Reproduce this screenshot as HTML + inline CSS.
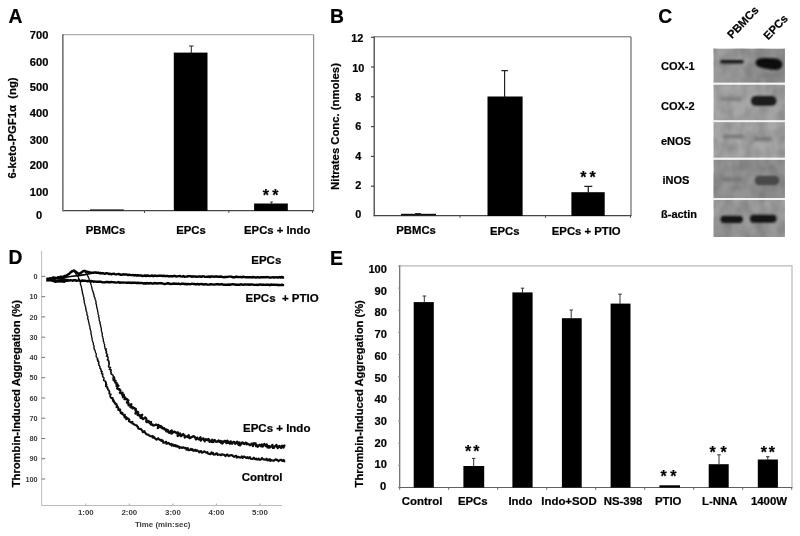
<!DOCTYPE html>
<html><head><meta charset="utf-8"><title>Figure</title>
<style>
html,body{margin:0;padding:0;background:#fff;}
body{width:800px;height:536px;overflow:hidden;}
svg{display:block;}
svg text{font-family:"Liberation Sans",sans-serif;font-weight:bold;fill:#000;stroke:#000;stroke-width:.22px;}
</style></head>
<body>
<svg width="800" height="536" viewBox="0 0 800 536">
<defs>
<filter id="b1" x="-20%" y="-60%" width="140%" height="220%"><feGaussianBlur stdDeviation="0.9"/></filter>
<filter id="b2" x="-20%" y="-100%" width="140%" height="300%"><feGaussianBlur stdDeviation="1.4"/></filter>
<filter id="b15" x="-20%" y="-60%" width="140%" height="220%"><feGaussianBlur stdDeviation="1.3"/></filter>
<filter id="mott" x="0" y="0" width="100%" height="100%"><feTurbulence type="fractalNoise" baseFrequency="0.09 0.07" numOctaves="2" seed="4" result="n"/><feColorMatrix in="n" type="matrix" values="0 0 0 0 0  0 0 0 0 0  0 0 0 0 0  1.8 0 0 0 -0.55"/></filter>
<linearGradient id="g1" x1="0" y1="0" x2="1" y2="0"><stop offset="0" stop-color="#a1a1a1"/><stop offset=".5" stop-color="#989898"/><stop offset="1" stop-color="#8a8a8a"/></linearGradient>
<linearGradient id="g2" x1="0" y1="0" x2="1" y2="0"><stop offset="0" stop-color="#a9a9a9"/><stop offset="1" stop-color="#a2a2a2"/></linearGradient>
<linearGradient id="g3" x1="0" y1="0" x2="1" y2="0"><stop offset="0" stop-color="#a6a6a6"/><stop offset="1" stop-color="#a9a9a9"/></linearGradient>
<linearGradient id="g4" x1="0" y1="0" x2="1" y2="0"><stop offset="0" stop-color="#969696"/><stop offset="1" stop-color="#909090"/></linearGradient>
<linearGradient id="g5" x1="0" y1="0" x2="0" y2="1"><stop offset="0" stop-color="#a0a0a0"/><stop offset="1" stop-color="#979797"/></linearGradient>
<filter id="soft" x="0" y="0" width="100%" height="100%"><feGaussianBlur stdDeviation="0.45"/></filter>
</defs>
<rect width="800" height="536" fill="#fff"/>
<g filter="url(#soft)">
<g id="A">
<text x="8.5" y="23.2" font-size="19.3" text-anchor="start" >A</text>
<path d="M63 34.7H313.7" stroke="#9a9a9a" stroke-width="1" fill="none"/>
<path d="M313.7 34.7V211" stroke="#777" stroke-width="1" fill="none"/>
<path d="M62.9 34.2V211.2" stroke="#333" stroke-width="1.1" fill="none"/>
<path d="M62.4 210.7H314" stroke="#444" stroke-width="1.2" fill="none"/>
<path d="M62 210.6H63.5" stroke="#888" stroke-width="1"/>
<path d="M62 185.5H63.5" stroke="#888" stroke-width="1"/>
<path d="M62 160.3H63.5" stroke="#888" stroke-width="1"/>
<path d="M62 135.2H63.5" stroke="#888" stroke-width="1"/>
<path d="M62 110.1H63.5" stroke="#888" stroke-width="1"/>
<path d="M62 85.0H63.5" stroke="#888" stroke-width="1"/>
<path d="M62 59.8H63.5" stroke="#888" stroke-width="1"/>
<path d="M62 34.7H63.5" stroke="#888" stroke-width="1"/>
<path d="M144.5 211V213" stroke="#555" stroke-width="1"/>
<path d="M228.9 211V213" stroke="#555" stroke-width="1"/>
<path d="M312.5 211V213" stroke="#555" stroke-width="1"/>
<text x="39.1" y="39.0" font-size="11.1" text-anchor="middle" >700</text>
<text x="39.1" y="66.0" font-size="11.1" text-anchor="middle" >600</text>
<text x="39.1" y="91.0" font-size="11.1" text-anchor="middle" >500</text>
<text x="39.1" y="117.0" font-size="11.1" text-anchor="middle" >400</text>
<text x="39.1" y="143.7" font-size="11.1" text-anchor="middle" >300</text>
<text x="39.1" y="169.4" font-size="11.1" text-anchor="middle" >200</text>
<text x="39.1" y="195.6" font-size="11.1" text-anchor="middle" >100</text>
<text x="39.1" y="219.0" font-size="11.1" text-anchor="middle" >0</text>
<rect x="90" y="209.4" width="33.7" height="1.2" fill="#111"/>
<rect x="173.8" y="52.6" width="33.7" height="158.4" fill="#000"/>
<path d="M191.3 53.0V46.0M189.1 46.0H193.6" stroke="#222" stroke-width="1" fill="none"/>
<rect x="254.1" y="203.5" width="33.7" height="7.5" fill="#000"/>
<path d="M271.5 204.0V202.0M270.0 202.0H273.0" stroke="#444" stroke-width="1" fill="none"/>
<text x="265.9" y="201.2" font-size="16" text-anchor="middle">*</text><text x="275.4" y="201.2" font-size="16" text-anchor="middle">*</text>
<text x="105.5" y="233.6" font-size="11.3" text-anchor="middle" >PBMCs</text>
<text x="191" y="233.6" font-size="11.3" text-anchor="middle" >EPCs</text>
<text x="277.2" y="233.6" font-size="11.3" text-anchor="middle" >EPCs + Indo</text>
<text transform="translate(16.3 128) rotate(-90)" font-size="11.3" text-anchor="middle">6-keto-PGF1&#945;&#160;&#160;(ng)</text>
</g>
<g id="B">
<text x="329.9" y="23.2" font-size="19.3" text-anchor="start" >B</text>
<path d="M374 36.8H631" stroke="#666" stroke-width="1" fill="none"/>
<path d="M631 36.8V215.6" stroke="#4a4a4a" stroke-width="1" fill="none"/>
<path d="M374.2 36.4V216.2" stroke="#444" stroke-width="1.3" fill="none"/>
<path d="M373.6 215.6H631.5" stroke="#444" stroke-width="1.3" fill="none"/>
<path d="M371 186.2H374" stroke="#444" stroke-width="1.2"/>
<path d="M371 156.4H374" stroke="#444" stroke-width="1.2"/>
<path d="M371 126.6H374" stroke="#444" stroke-width="1.2"/>
<path d="M371 96.8H374" stroke="#444" stroke-width="1.2"/>
<path d="M371 67.0H374" stroke="#444" stroke-width="1.2"/>
<path d="M371 37.3H374" stroke="#444" stroke-width="1.2"/>
<path d="M460 215.6V217.8" stroke="#555" stroke-width="1"/>
<path d="M545.5 215.6V217.8" stroke="#555" stroke-width="1"/>
<path d="M630.5 215.6V217.8" stroke="#555" stroke-width="1"/>
<text x="357.3" y="42.25" font-size="10.9" text-anchor="middle" >12</text>
<text x="358.2" y="71.65" font-size="10.9" text-anchor="middle" >10</text>
<text x="358.2" y="101.25" font-size="10.9" text-anchor="middle" >8</text>
<text x="358.2" y="130.25" font-size="10.9" text-anchor="middle" >6</text>
<text x="358.2" y="160.14999999999998" font-size="10.9" text-anchor="middle" >4</text>
<text x="358.2" y="189.25" font-size="10.9" text-anchor="middle" >2</text>
<text x="358.2" y="218.35" font-size="10.9" text-anchor="middle" >0</text>
<rect x="401" y="213.8" width="35" height="1.8" fill="#111"/>
<rect x="415" y="213" width="6" height="1.5" rx=".7" fill="#222"/>
<rect x="487.5" y="96.5" width="35.1" height="119.4" fill="#000"/>
<path d="M504.6 97.0V70.6M501.4 70.6H507.9" stroke="#222" stroke-width="1.2" fill="none"/>
<rect x="571.4" y="192.2" width="33.3" height="23.7" fill="#000"/>
<path d="M588.3 193.0V186.3M584.3 186.3H592.3" stroke="#222" stroke-width="1.3" fill="none"/>
<text x="583.4" y="183.1" font-size="16" text-anchor="middle">*</text><text x="592.6" y="183.1" font-size="16" text-anchor="middle">*</text>
<text x="416.1" y="234.4" font-size="11.3" text-anchor="middle" >PBMCs</text>
<text x="504.7" y="234.7" font-size="11.3" text-anchor="middle" >EPCs</text>
<text x="586.2" y="234.7" font-size="11.3" text-anchor="middle" >EPCs + PTIO</text>
<text transform="translate(338.8 126.5) rotate(-90)" font-size="11.3" text-anchor="middle">Nitrates Conc. (nmoles)</text>
</g>
<g id="C">
<text x="658.2" y="23.2" font-size="19.3" text-anchor="start" >C</text>
<text transform="translate(732 39.3) rotate(-46.5)" font-size="11.3" text-anchor="start">PBMCs</text>
<text transform="translate(768.2 40.5) rotate(-46.5)" font-size="11.3" text-anchor="start">EPCs</text>
<text x="661" y="70" font-size="11.0" text-anchor="start" >COX-1</text>
<text x="661" y="109.7" font-size="11.0" text-anchor="start" >COX-2</text>
<text x="661" y="145" font-size="11.0" text-anchor="start" >eNOS</text>
<text x="662.4" y="184" font-size="11.0" text-anchor="start" >iNOS</text>
<text x="661" y="217.9" font-size="11.0" text-anchor="start" >&#223;-actin</text>
<rect x="713.6" y="48.7" width="71.3" height="34.1" fill="url(#g1)"/>
<rect x="713.6" y="84.5" width="71.3" height="36.0" fill="url(#g2)"/>
<rect x="713.6" y="122" width="71.3" height="35.8" fill="url(#g3)"/>
<rect x="713.6" y="159.6" width="71.3" height="38.6" fill="url(#g4)"/>
<rect x="713.6" y="199.7" width="71.3" height="37.3" fill="url(#g5)"/>
<rect x="713.6" y="48.7" width="71.3" height="188.3" fill="#000" filter="url(#mott)" opacity=".16"/>
<rect x="713" y="82.75" width="72.5" height="1.8" fill="#f4f4f4"/>
<rect x="713" y="120.35" width="72.5" height="1.8" fill="#f4f4f4"/>
<rect x="713" y="157.80" width="72.5" height="1.8" fill="#f4f4f4"/>
<rect x="713" y="198.05" width="72.5" height="1.8" fill="#f4f4f4"/>
<rect x="720.2" y="59.9" width="23.5" height="3.6" rx="1.8" fill="#161616" opacity="1" filter="url(#b1)"/>
<path d="M756 61.5C757 58 764 57.8 770 58.2C777 58.4 782 59.5 782.3 64C782.5 68.5 779 70.3 774 69.8C767 69.2 760 67.6 757.5 66C755.5 64.5 755.5 63 756 61.5Z" fill="#0a0a0a" filter="url(#b1)"/>
<rect x="760.0" y="74.0" width="16" height="3" rx="1.5" fill="#6f6f6f" opacity="0.5" filter="url(#b2)"/>
<rect x="720.5" y="96.8" width="21" height="4.5" rx="2.2" fill="#777" opacity="0.75" filter="url(#b2)"/>
<rect x="751.0" y="96.1" width="25.5" height="9.6" rx="4.8" fill="#1a1a1a" opacity="1" filter="url(#b1)"/>
<rect x="722.0" y="134.5" width="22" height="4" rx="2.0" fill="#707070" opacity="0.85" filter="url(#b2)"/>
<rect x="754.0" y="137.0" width="18" height="4" rx="2.0" fill="#707070" opacity="0.8" filter="url(#b2)"/>
<rect x="722.0" y="177.5" width="20" height="4" rx="2.0" fill="#6a6a6a" opacity="0.7" filter="url(#b2)"/>
<rect x="754.8" y="175.7" width="24.5" height="9.6" rx="4.8" fill="#4a4a4a" opacity="1" filter="url(#b15)"/>
<rect x="720.5" y="215.7" width="22.5" height="7.2" rx="3.6" fill="#181818" opacity="1" filter="url(#b1)"/>
<rect x="750.0" y="214.8" width="26.5" height="8" rx="4.0" fill="#181818" opacity="1" filter="url(#b1)"/>
</g>
<g id="D">
<text x="8.4" y="264.2" font-size="19.3" text-anchor="start" >D</text>
<path d="M41.6 251V505.5H282" stroke="#b0b0b0" stroke-width=".85" fill="none"/>
<path d="M41.6 276.4H45.2" stroke="#666" stroke-width=".9"/>
<text x="37.6" y="279.0" font-size="7.3" text-anchor="end" style="fill:#3c3c3c;stroke:none">0</text>
<path d="M41.6 296.7H45.2" stroke="#666" stroke-width=".9"/>
<text x="37.6" y="299.26" font-size="7.3" text-anchor="end" style="fill:#3c3c3c;stroke:none">10</text>
<path d="M41.6 316.9H45.2" stroke="#666" stroke-width=".9"/>
<text x="37.6" y="319.52" font-size="7.3" text-anchor="end" style="fill:#3c3c3c;stroke:none">20</text>
<path d="M41.6 337.2H45.2" stroke="#666" stroke-width=".9"/>
<text x="37.6" y="339.78" font-size="7.3" text-anchor="end" style="fill:#3c3c3c;stroke:none">30</text>
<path d="M41.6 357.4H45.2" stroke="#666" stroke-width=".9"/>
<text x="37.6" y="360.04" font-size="7.3" text-anchor="end" style="fill:#3c3c3c;stroke:none">40</text>
<path d="M41.6 377.7H45.2" stroke="#666" stroke-width=".9"/>
<text x="37.6" y="380.3" font-size="7.3" text-anchor="end" style="fill:#3c3c3c;stroke:none">50</text>
<path d="M41.6 398.0H45.2" stroke="#666" stroke-width=".9"/>
<text x="37.6" y="400.56" font-size="7.3" text-anchor="end" style="fill:#3c3c3c;stroke:none">60</text>
<path d="M41.6 418.2H45.2" stroke="#666" stroke-width=".9"/>
<text x="37.6" y="420.82000000000005" font-size="7.3" text-anchor="end" style="fill:#3c3c3c;stroke:none">70</text>
<path d="M41.6 438.5H45.2" stroke="#666" stroke-width=".9"/>
<text x="37.6" y="441.08000000000004" font-size="7.3" text-anchor="end" style="fill:#3c3c3c;stroke:none">80</text>
<path d="M41.6 458.7H45.2" stroke="#666" stroke-width=".9"/>
<text x="37.6" y="461.34000000000003" font-size="7.3" text-anchor="end" style="fill:#3c3c3c;stroke:none">90</text>
<path d="M41.6 479.0H45.2" stroke="#666" stroke-width=".9"/>
<text x="37.6" y="481.6" font-size="7.3" text-anchor="end" style="fill:#3c3c3c;stroke:none">100</text>
<path d="M85.8 503.5V505.5" stroke="#999" stroke-width=".8"/>
<text x="85.8" y="514.5" font-size="7.9" text-anchor="middle" style="fill:#3c3c3c;stroke:none">1:00</text>
<path d="M129.3 503.5V505.5" stroke="#999" stroke-width=".8"/>
<text x="129.35" y="514.5" font-size="7.9" text-anchor="middle" style="fill:#3c3c3c;stroke:none">2:00</text>
<path d="M172.9 503.5V505.5" stroke="#999" stroke-width=".8"/>
<text x="172.89999999999998" y="514.5" font-size="7.9" text-anchor="middle" style="fill:#3c3c3c;stroke:none">3:00</text>
<path d="M216.4 503.5V505.5" stroke="#999" stroke-width=".8"/>
<text x="216.45" y="514.5" font-size="7.9" text-anchor="middle" style="fill:#3c3c3c;stroke:none">4:00</text>
<path d="M260.0 503.5V505.5" stroke="#999" stroke-width=".8"/>
<text x="260.0" y="514.5" font-size="7.9" text-anchor="middle" style="fill:#3c3c3c;stroke:none">5:00</text>
<text x="162.7" y="527" font-size="7.9" text-anchor="middle" style="fill:#3c3c3c;stroke:none">Time (min:sec)</text>
<text transform="translate(20.2 393.6) rotate(-90)" font-size="11.2" text-anchor="middle">Thrombin-Induced Aggregation (%)</text>
<path d="M46.5 278.8L51.5 279.6L54.3 280.0L59.6 277.1L46.8 281.1L51.9 277.9L67.4 279.5L64.1 279.5L59.9 277.6L59.8 281.5L57.5 280.8L60.6 277.1L62.4 280.1L52.8 276.8L64.7 279.5L61.6 281.6L61.5 281.9L54.8 281.1L55.8 281.8L65.0 277.4L49.4 277.8L66.8 279.3L59.7 278.4L57.2 278.8L53.9 279.9L58.8 281.7L60.8 281.9L64.5 282.3L60.6 277.7L64.6 282.2L65.5 280.0" stroke="#000" stroke-width="1.35" fill="none" stroke-linejoin="round" opacity=".92"/>
<path d="M60 278.2L66 277.2L72 276.2L78.5 275.6L85 274.6L92 273.2" stroke="#000" stroke-width="1.6" fill="none" stroke-linejoin="round"/>
<path d="M46.5 278.8L47.7 278.7L48.9 278.9L50.1 278.4L51.3 278.4L52.5 278.3L53.7 277.9L54.9 278.0L56.1 277.9L57.3 277.8L58.5 277.1L59.7 277.1L60.9 276.7L62.1 277.0L63.3 276.8L64.5 275.9L65.7 275.9L66.9 275.3L68.1 274.4L69.3 273.7L70.5 272.5L71.7 271.5L72.9 271.0L74.1 270.6L75.3 271.4L76.5 272.3L77.7 273.2L78.9 274.3L80.1 273.3L81.3 272.6L82.5 271.6L83.7 270.9L84.9 270.9L86.1 271.4L87.3 271.7L88.5 271.9L89.7 272.5L90.9 272.7L92.1 272.7L93.3 272.7L94.5 272.5L95.7 272.5L96.9 272.7L98.1 272.6L99.3 273.2L100.5 273.0L101.7 273.4L102.9 273.2L104.1 273.7L105.3 273.7L106.5 273.2L107.7 273.4L108.9 274.0L110.1 273.8L111.3 274.2L112.5 273.9L113.7 273.7L114.9 274.2L116.1 274.4L117.3 274.1L118.5 274.0L119.7 274.3L120.9 274.8L122.1 274.7L123.3 274.3L124.5 274.5L125.7 274.5L126.9 274.5L128.1 275.1L129.3 274.7L130.5 275.1L131.7 275.1L132.9 275.0L134.1 275.4L135.3 275.1L136.5 275.5L137.7 275.2L138.9 275.5L140.1 275.4L141.3 275.5L142.5 276.0L143.7 275.9L144.9 275.5L146.1 276.0L147.3 275.5L148.5 275.7L149.7 276.0L150.9 275.9L152.1 275.5L153.3 276.2L154.5 275.6L155.7 275.7L156.9 276.1L158.1 275.8L159.3 275.8L160.5 275.6L161.7 275.7L162.9 276.0L164.1 275.8L165.3 276.1L166.5 276.0L167.7 276.0L168.9 276.4L170.1 276.1L171.3 276.2L172.5 276.4L173.7 275.9L174.9 275.9L176.1 276.5L177.3 276.4L178.5 276.1L179.7 276.0L180.9 276.4L182.1 276.6L183.3 276.1L184.5 276.7L185.7 276.6L186.9 276.5L188.1 276.3L189.3 276.1L190.5 276.1L191.7 276.8L192.9 276.3L194.1 276.6L195.3 276.4L196.5 276.8L197.7 276.6L198.9 276.4L200.1 276.4L201.3 276.8L202.5 276.3L203.7 276.4L204.9 276.7L206.1 276.9L207.3 276.7L208.5 276.5L209.7 277.0L210.9 276.5L212.1 276.4L213.3 276.6L214.5 276.7L215.7 276.4L216.9 276.5L218.1 276.7L219.3 276.8L220.5 276.5L221.7 276.7L222.9 277.1L224.1 277.2L225.3 276.9L226.5 277.0L227.7 276.9L228.9 276.6L230.1 276.6L231.3 276.6L232.5 277.2L233.7 277.1L234.9 277.3L236.1 276.6L237.3 277.0L238.5 277.0L239.7 277.1L240.9 276.9L242.1 277.3L243.3 276.7L244.5 277.1L245.7 277.2L246.9 277.3L248.1 277.2L249.3 277.2L250.5 277.3L251.7 277.4L252.9 277.0L254.1 277.2L255.3 277.4L256.5 277.4L257.7 277.1L258.9 277.4L260.1 277.4L261.3 277.2L262.5 277.3L263.7 277.1L264.9 277.3L266.1 277.3L267.3 276.9L268.5 277.3L269.7 277.6L270.9 277.5L272.1 277.4L273.3 277.2L274.5 277.5L275.7 277.4L276.9 277.3L278.1 277.6L279.3 277.1L280.5 277.5L281.7 277.0L282.9 277.5L284.1 277.4" stroke="#000" stroke-width="2.45" fill="none" stroke-linejoin="round"/>
<path d="M46.5 279.5L47.7 279.9L48.9 280.2L50.1 280.1L51.3 280.3L52.5 280.8L53.7 281.0L54.9 281.7L56.1 281.6L57.3 281.4L58.5 281.3L59.7 281.3L60.9 280.9L62.1 281.0L63.3 280.7L64.5 281.1L65.7 280.4L66.9 280.9L68.1 280.3L69.3 280.6L70.5 280.3L71.7 280.4L72.9 280.7L74.1 280.1L75.3 280.2L76.5 280.8L77.7 280.6L78.9 280.3L80.1 280.9L81.3 281.0L82.5 280.5L83.7 280.8L84.9 280.7L86.1 280.9L87.3 281.2L88.5 280.9L89.7 281.4L90.9 281.0L92.1 281.2L93.3 281.7L94.5 281.5L95.7 281.6L96.9 281.8L98.1 281.8L99.3 281.8L100.5 281.6L101.7 282.1L102.9 282.3L104.1 282.4L105.3 282.2L106.5 282.0L107.7 282.0L108.9 282.3L110.1 282.3L111.3 282.0L112.5 282.1L113.7 282.2L114.9 282.4L116.1 282.6L117.3 282.4L118.5 282.1L119.7 282.7L120.9 282.5L122.1 282.6L123.3 282.4L124.5 282.6L125.7 282.6L126.9 282.9L128.1 282.5L129.3 282.8L130.5 282.6L131.7 283.0L132.9 282.6L134.1 282.8L135.3 282.8L136.5 283.1L137.7 282.7L138.9 283.0L140.1 282.9L141.3 283.0L142.5 283.1L143.7 283.5L144.9 283.2L146.1 283.5L147.3 283.0L148.5 283.6L149.7 283.2L150.9 283.1L152.1 283.5L153.3 283.6L154.5 283.0L155.7 283.2L156.9 283.6L158.1 283.3L159.3 283.3L160.5 283.1L161.7 283.2L162.9 283.6L164.1 283.9L165.3 283.9L166.5 283.6L167.7 283.3L168.9 283.5L170.1 283.9L171.3 283.9L172.5 283.8L173.7 283.5L174.9 283.8L176.1 283.7L177.3 283.9L178.5 283.6L179.7 284.1L180.9 284.1L182.1 283.6L183.3 283.7L184.5 284.2L185.7 283.8L186.9 284.3L188.1 284.0L189.3 284.1L190.5 284.2L191.7 283.8L192.9 283.9L194.1 283.9L195.3 284.2L196.5 284.3L197.7 283.9L198.9 284.5L200.1 284.1L201.3 284.0L202.5 284.2L203.7 284.6L204.9 284.3L206.1 284.3L207.3 284.6L208.5 284.6L209.7 284.5L210.9 284.2L212.1 284.4L213.3 284.6L214.5 284.5L215.7 284.4L216.9 284.3L218.1 284.3L219.3 284.5L220.5 284.4L221.7 284.1L222.9 284.6L224.1 284.7L225.3 284.6L226.5 284.7L227.7 284.7L228.9 284.5L230.1 284.7L231.3 284.4L232.5 284.2L233.7 284.4L234.9 284.4L236.1 284.8L237.3 284.7L238.5 284.6L239.7 284.7L240.9 284.3L242.1 284.6L243.3 284.7L244.5 284.5L245.7 284.5L246.9 284.6L248.1 284.5L249.3 284.8L250.5 284.4L251.7 284.4L252.9 284.6L254.1 284.8L255.3 284.9L256.5 284.8L257.7 285.0L258.9 284.7L260.1 284.4L261.3 284.8L262.5 284.8L263.7 284.6L264.9 284.9L266.1 284.7L267.3 284.7L268.5 284.7L269.7 285.2L270.9 284.5L272.1 284.8L273.3 284.7L274.5 284.7L275.7 284.9L276.9 284.7L278.1 285.2L279.3 284.9L280.5 285.1L281.7 284.7L282.9 285.0L284.1 285.1" stroke="#000" stroke-width="2.45" fill="none" stroke-linejoin="round"/>
<path d="M73.7 270.5L73.9 271.3L74.4 271.9L75.0 272.5L75.6 273.0L75.8 273.9L76.3 274.5L76.9 275.1L77.3 275.8L77.9 276.4L78.4 277.1L78.5 277.9L78.8 278.7L79.4 279.3L79.3 280.2L80.0 280.8L80.2 281.6L80.6 282.3L80.2 283.3L80.5 284.0L80.6 284.8L80.9 285.6L81.4 286.3L81.4 287.2L81.5 288.0L81.9 288.8L81.6 289.6L82.1 290.4L82.4 291.1L82.1 292.0L82.7 292.7L82.4 293.6L82.9 294.3L83.0 295.1L83.3 295.9L83.3 296.7L83.7 297.4L83.9 298.2L83.6 299.1L84.2 299.8L84.0 300.7L84.5 301.4L84.2 302.3L84.4 303.0L84.7 303.8L84.9 304.6L85.1 305.4L85.2 306.2L85.7 306.9L85.7 307.7L85.7 308.5L86.2 309.3L85.9 310.1L86.1 310.9L86.6 311.6L86.8 312.4L86.9 313.2L87.1 314.0L86.9 314.9L87.4 315.6L87.8 316.3L87.9 317.1L87.7 318.0L87.7 318.8L88.2 319.5L88.4 320.3L88.5 321.1L88.6 321.9L89.0 322.7L89.0 323.5L89.2 324.3L89.3 325.1L89.7 325.8L89.9 326.6L89.9 327.4L89.8 328.3L90.3 329.0L90.3 329.8L90.6 330.6L90.9 331.4L91.1 332.1L90.8 333.0L91.0 333.8L91.4 334.6L91.4 335.4L91.6 336.2L91.6 337.0L91.8 337.8L92.2 338.5L92.1 339.4L92.2 340.2L92.6 340.9L92.6 341.7L93.0 342.5L93.3 343.3L93.5 344.0L93.3 344.9L93.9 345.6L94.2 346.4L93.8 347.3L94.0 348.1L94.4 348.8L94.3 349.7L95.1 350.3L95.2 351.1L95.4 351.9L95.5 352.7L96.0 353.4L96.3 354.1L96.3 355.0L96.1 355.9L96.2 356.7L96.7 357.4L97.2 358.1L97.6 358.8L97.2 359.8L97.8 360.4L97.9 361.2" stroke="#0a0a0a" stroke-width="1.3" fill="none" stroke-linejoin="round" stroke-linecap="round"/><path d="M97.6 358.8L97.8 360.4L97.9 361.2L98.8 361.8L98.9 362.6L98.5 363.6L98.8 364.3L98.9 365.1L99.5 365.8L99.9 366.5L100.0 367.3L99.9 368.2L100.8 368.8L100.7 369.6L101.3 370.3L101.0 371.3L102.2 371.7L101.6 372.8L101.5 373.7L102.9 374.0L102.5 375.0L102.7 375.8L102.7 376.7L103.3 377.3L104.0 378.0L104.0 378.8L103.5 379.8L103.9 380.6L105.2 381.0L105.5 381.7L105.8 382.5L105.8 384.2L105.8 386.0" stroke="#0a0a0a" stroke-width="1.5" fill="none" stroke-linejoin="round" stroke-linecap="round"/><path d="M105.5 381.7L105.8 382.5L106.2 383.2L105.8 384.2L106.6 384.8L105.8 386.0L106.4 386.6L107.5 387.0L107.2 388.0L107.9 388.6L107.9 389.5L108.7 390.1L109.1 390.8L109.4 391.5L109.4 392.4L109.2 393.4L109.8 394.0L110.9 394.4L110.2 395.6L110.2 396.5L110.7 397.2L111.1 398.0L112.7 398.0L112.4 399.1L113.4 399.4L112.7 400.8L114.1 400.9L113.7 402.1L114.9 402.3L114.7 403.5L115.7 403.7" stroke="#0a0a0a" stroke-width="1.8" fill="none" stroke-linejoin="round" stroke-linecap="round"/><path d="M115.7 403.7L116.6 404.1L116.5 405.2L117.1 405.8L116.6 407.1L118.1 407.1L118.2 408.0L118.5 408.8L118.3 409.9L120.2 409.6L119.9 410.8L120.5 411.4L120.7 412.3L120.8 413.2L122.4 412.9L122.3 414.1L123.1 414.4L123.6 415.0L124.9 414.9L124.3 416.6L124.6 417.4L126.1 417.1L126.7 417.7L126.2 419.2L128.1 418.5L128.7 419.0L129.3 419.5L128.9 421.2L129.6 421.7L130.6 421.7L131.0 422.4L132.4 421.9L132.3 423.5L133.2 423.6L133.7 424.2L134.5 424.5L135.1 425.0L136.0 425.2L136.9 425.4L137.0 426.5L137.9 426.7L138.0 427.9L138.5 428.6L139.2 428.9L140.2 428.9L141.1 429.1L141.6 429.8L142.1 430.5L142.6 431.2L142.8 432.2L144.5 431.2L144.7 432.3L145.4 432.8L145.8 433.6L146.4 434.3L147.2 434.5L148.1 434.6L148.7 435.2L149.5 435.4L150.1 436.1L151.0 436.2L151.7 436.5L152.8 436.1L152.9 437.7L154.2 437.1L154.7 437.9L155.2 438.6L155.8 439.2L156.5 439.7L158.2 438.2L158.6 439.1L159.4 439.5L160.0 440.0L161.0 439.9L161.3 441.0L162.5 440.4L163.0 441.1L163.3 442.7L164.2 442.6L165.2 442.3L166.2 441.8L166.4 443.8L167.3 443.5L168.4 442.8L169.1 443.3L169.6 444.2L170.4 444.5L171.4 443.9L171.7 445.6L172.9 444.6L173.7 444.7L174.1 446.1L175.3 445.0L175.7 446.3L176.8 445.6L177.3 446.7L178.3 446.3L179.0 446.7L179.5 448.1L180.5 447.3L181.3 447.4L182.0 448.0L182.9 447.5L183.8 447.4L184.5 448.1L185.3 448.0L186.1 448.0L186.5 449.8L187.8 448.1L188.2 449.9L188.9 450.3L189.8 450.0L190.9 448.8L191.5 450.0L192.5 449.2L193.0 450.6L193.7 450.9L194.7 450.1L195.6 449.8L196.2 451.1L197.1 450.3L197.8 450.9L198.6 451.3L199.2 452.3L200.2 451.4L201.1 451.0L201.7 452.5L202.4 452.7L203.3 452.2L204.3 451.3L205.0 451.8L205.8 452.3L206.5 452.8L207.4 452.2L208.0 453.5L208.8 453.8L209.6 454.1L210.4 454.1L211.5 452.4L212.1 453.7L213.0 452.8L213.6 454.6L214.4 454.4L215.2 454.5L216.2 453.4L217.0 453.3L217.6 454.9L218.5 454.6L219.3 454.7L220.1 454.5L220.9 455.3L221.8 454.4L222.6 454.4L223.4 454.7L224.2 454.7L224.9 455.5L225.6 456.1L226.7 454.5L227.5 454.6L228.2 455.6L228.9 456.1L229.8 455.2L230.6 455.4L231.5 455.1L232.3 455.2L233.0 456.2L233.7 456.7L234.5 456.8L235.5 455.8L236.3 455.8L236.9 457.6L237.8 456.9L238.6 456.7L239.4 457.4L240.2 457.6L241.0 457.2L241.9 456.4L242.5 458.0L243.5 456.8L244.3 456.5L245.0 457.2L245.8 457.7L246.6 457.9L247.5 457.1L248.2 458.2L249.0 457.9L249.9 457.2L250.6 458.8L251.4 458.7L252.2 459.0L253.0 458.6L253.9 457.7L254.6 458.9L255.4 459.3L256.2 458.6L257.0 459.4L257.8 459.6L258.7 458.5L259.4 459.7L260.2 459.8L261.0 459.5L261.9 458.0L262.7 458.8L263.4 459.4L264.2 459.4L265.0 459.8L265.8 459.7L266.7 458.7L267.4 460.4L268.3 459.6L269.0 460.4L269.9 459.1L270.6 460.8L271.5 460.0L272.2 460.5L273.0 460.5L273.8 460.9L274.7 459.8L275.6 459.3L276.3 460.1L277.1 459.7L277.9 460.5L278.6 461.1L279.5 460.3L280.4 459.8L281.2 459.7L281.9 460.6L282.7 461.0L283.6 459.9L284.3 461.3" stroke="#0a0a0a" stroke-width="2.1" fill="none" stroke-linejoin="round" stroke-linecap="round"/>
<path d="M83.8 270.8L84.7 271.1L85.2 271.7L85.3 272.7L86.1 273.0L86.7 273.6L86.9 274.5L87.4 275.1L87.6 275.9L88.3 276.5L88.2 277.4L88.9 278.1L89.1 278.9L89.2 279.7L89.6 280.5L89.8 281.3L90.2 282.0L90.8 282.7L90.6 283.7L91.0 284.4L91.3 285.2L91.6 285.9L91.5 286.9L91.9 287.6L91.9 288.5L92.2 289.2L92.3 290.1L92.8 290.8L92.9 291.6L93.2 292.4L93.6 293.1L93.5 294.0L94.1 294.7L94.0 295.6L94.1 296.4L94.5 297.2L95.0 297.9L94.9 298.8L95.2 299.5L95.6 300.3L95.9 301.1L95.8 301.9L96.2 302.7L95.9 303.6L96.3 304.3L96.4 305.1L96.7 305.9L96.7 306.8L96.7 307.6L97.2 308.3L97.3 309.1L97.4 310.0L97.7 310.7L97.7 311.6L97.9 312.4L98.1 313.2L98.1 314.0L98.4 314.8L98.8 315.5L98.4 316.4L98.9 317.1L99.1 317.9L99.2 318.7L99.1 319.6L99.2 320.4L99.6 321.1L99.8 321.9L100.2 322.6L99.9 323.5L100.4 324.2L100.4 325.0L100.7 325.8L100.8 326.6L101.0 327.4L101.2 328.1L101.5 328.9L101.3 329.7L101.3 330.6L101.6 331.3L102.0 332.1L101.8 332.9L102.4 333.6L102.3 334.4L102.2 335.3L102.3 336.1L102.8 336.8L102.7 337.7L103.1 338.4L103.3 339.2L103.4 340.0L103.2 340.9L103.6 341.6L104.0 342.4L104.0 343.2L104.3 344.0L104.7 344.8L104.5 345.7L104.6 346.5L105.0 347.2L104.8 348.1L105.7 349.6L105.7 350.4" stroke="#0a0a0a" stroke-width="1.3" fill="none" stroke-linejoin="round" stroke-linecap="round"/><path d="M106.1 348.7L105.7 349.6L105.7 350.4L106.2 351.1L106.6 351.9L106.1 352.8L106.6 353.5L107.0 354.2L107.6 355.0L106.4 356.0L107.5 356.6L108.0 357.3L108.0 358.1L108.1 358.9L107.3 359.9L108.6 360.5L108.6 361.3L109.1 362.0L108.6 362.9L109.3 363.6L109.2 364.4L108.7 365.4L108.5 366.3L108.8 367.0L110.5 367.4L110.0 368.4L109.3 369.4L111.1 369.7L111.1 370.5L110.7 371.5L111.3 372.2L110.8 373.2L111.2 374.0L112.0 374.5L112.8 375.1L113.1 375.8L113.4 376.6L113.1 378.5L113.2 380.2" stroke="#0a0a0a" stroke-width="1.55" fill="none" stroke-linejoin="round" stroke-linecap="round"/><path d="M114.1 377.2L114.5 378.8L114.1 380.8L115.8 380.8L115.1 382.1L115.2 382.9L116.9 382.9L116.2 384.2L117.7 384.4L116.3 386.0L118.6 385.8L117.4 387.3L116.9 388.5L117.6 389.0L119.6 388.9L119.2 390.0L120.6 390.2L120.5 391.1L119.6 392.7L120.2 393.3L122.7 392.5L122.2 393.8L122.1 395.0L123.7 394.7L122.6 396.6L122.9 397.4" stroke="#0a0a0a" stroke-width="1.9" fill="none" stroke-linejoin="round" stroke-linecap="round"/><path d="M123.7 394.7L124.3 397.4L125.3 397.6L124.5 399.2L125.8 399.2L127.2 399.2L127.5 400.0L128.3 400.4L126.9 402.5L128.3 402.4L128.3 403.4L128.5 404.4L128.6 405.3L131.3 404.2L131.2 405.3L130.4 407.0L131.2 407.4L132.8 407.2L132.6 408.4L134.4 408.0L135.0 408.6L135.8 408.9L135.4 410.3L136.3 410.6L136.1 411.9L135.5 413.6L138.2 412.1L137.8 413.7L137.7 415.1L138.9 414.9L139.7 415.2L139.9 416.4L142.2 414.8L140.7 417.9L142.0 417.7L142.4 418.6L143.0 419.1L145.2 417.5L145.9 417.9L146.3 418.7L146.4 420.1L146.3 421.8L147.1 422.2L148.7 421.0L149.0 422.0L149.5 422.8L151.0 421.9L150.6 424.3L151.3 424.6L152.4 424.3L152.8 425.3L153.7 425.3L154.7 425.3L156.0 424.6L156.8 424.9L157.5 425.1L158.6 425.0L157.8 428.1L159.6 426.5L160.8 426.0L161.0 427.3L162.0 427.0L162.2 428.4L163.1 428.4L164.1 428.1L164.4 429.4L165.3 429.5L166.1 429.5L166.3 431.4L167.7 429.9L168.2 431.0L168.5 432.4L169.2 432.9L170.6 431.2L171.8 430.4L171.5 433.7L172.8 432.5L173.9 431.8L174.8 431.7L175.4 432.4L176.1 432.9L177.0 432.6L177.9 432.5L177.6 436.0L178.6 435.6L180.1 433.4L180.5 434.9L181.0 436.2L182.0 435.3L183.2 434.0L183.7 435.1L184.5 435.4L184.8 437.5L185.9 436.5L186.8 436.3L187.4 437.0L188.7 435.2L189.0 437.6L189.6 438.2L190.5 437.9L191.6 437.0L192.4 436.9L193.4 436.1L194.1 436.5L194.8 436.9L195.4 438.1L196.0 439.4L197.1 437.6L197.8 438.6L198.5 439.3L199.3 439.4L200.4 437.3L200.8 440.6L201.7 439.5L202.7 438.6L203.5 438.5L204.1 440.2L204.7 441.2L205.8 439.2L206.6 439.5L207.3 440.2L208.3 438.9L209.0 439.9L209.5 441.8L210.5 440.6L211.2 441.7L212.2 439.8L212.7 442.1L213.6 441.8L214.6 439.9L215.3 441.1L216.0 441.8L216.9 441.5L217.7 441.6L218.6 440.4L219.3 441.7L220.2 441.0L220.8 442.7L221.8 441.3L222.3 443.5L223.3 442.2L224.3 441.0L225.0 441.8L225.9 440.9L226.5 443.1L227.5 440.8L228.1 442.8L229.0 441.9L229.7 443.6L230.7 441.4L231.3 443.5L232.1 443.7L233.1 442.1L233.9 441.8L234.6 442.7L235.3 443.8L236.3 442.5L237.2 441.7L237.8 443.3L238.5 444.7L239.5 442.5L240.1 445.4L241.0 443.9L241.9 442.7L242.7 442.5L243.4 443.6L244.2 444.0L245.1 443.0L245.9 442.7L246.6 444.3L247.5 443.5L248.2 444.2L249.0 444.3L249.8 445.2L250.6 444.9L251.5 443.7L252.3 443.6L252.9 446.1L254.0 443.2L254.7 443.5L255.6 443.4L256.1 446.2L257.0 445.2L257.7 446.7L258.6 445.7L259.5 444.7L260.3 445.1L261.0 446.2L261.9 444.5L262.6 446.6L263.5 445.2L264.4 444.0L265.1 445.1L265.8 446.0L266.8 444.5L267.4 447.3L268.1 447.5L269.1 446.0L269.8 447.5L270.6 446.8L271.5 446.3L272.4 445.0L273.0 447.9L273.8 447.9L274.7 446.3L275.5 446.1L276.4 445.0L277.1 447.0L277.8 448.0L278.7 446.3L279.5 446.0L280.3 447.3L281.0 448.0L282.0 445.8L282.8 446.3L283.5 447.6L284.4 445.5" stroke="#0a0a0a" stroke-width="2.3" fill="none" stroke-linejoin="round" stroke-linecap="round"/>
<text x="266.3" y="263.8" font-size="11.5" text-anchor="middle" >EPCs</text>
<text x="245.5" y="301.6" font-size="11.5" text-anchor="start" >EPCs&#160;&#160;+ PTIO</text>
<text x="243" y="431.7" font-size="11.5" text-anchor="start" >EPCs + Indo</text>
<text x="241.7" y="481.3" font-size="11.5" text-anchor="start" >Control</text>
</g>
<g id="E">
<text x="329.9" y="265" font-size="19.3" text-anchor="start" >E</text>
<path d="M399.7 265.8H792V487.3" stroke="#b8b8b8" stroke-width="1.2" fill="none"/>
<path d="M399.7 265.2V487.8" stroke="#666" stroke-width="1.2" fill="none"/>
<path d="M398.6 487.5H792.4" stroke="#606060" stroke-width="1.2" fill="none"/>
<path d="M398 487.5H399.7" stroke="#999" stroke-width="1"/>
<text x="386.09999999999997" y="490.2" font-size="11.1" text-anchor="end" >0</text>
<path d="M398 465.3H399.7" stroke="#999" stroke-width="1"/>
<text x="386.9" y="468.46" font-size="11.1" text-anchor="end" >10</text>
<path d="M398 443.2H399.7" stroke="#999" stroke-width="1"/>
<text x="386.9" y="446.71999999999997" font-size="11.1" text-anchor="end" >20</text>
<path d="M398 421.0H399.7" stroke="#999" stroke-width="1"/>
<text x="386.9" y="424.98" font-size="11.1" text-anchor="end" >30</text>
<path d="M398 398.9H399.7" stroke="#999" stroke-width="1"/>
<text x="386.9" y="403.24" font-size="11.1" text-anchor="end" >40</text>
<path d="M398 376.7H399.7" stroke="#999" stroke-width="1"/>
<text x="386.9" y="381.5" font-size="11.1" text-anchor="end" >50</text>
<path d="M398 354.5H399.7" stroke="#999" stroke-width="1"/>
<text x="386.9" y="359.76" font-size="11.1" text-anchor="end" >60</text>
<path d="M398 332.4H399.7" stroke="#999" stroke-width="1"/>
<text x="386.9" y="338.02" font-size="11.1" text-anchor="end" >70</text>
<path d="M398 310.2H399.7" stroke="#999" stroke-width="1"/>
<text x="386.9" y="316.28" font-size="11.1" text-anchor="end" >80</text>
<path d="M398 288.1H399.7" stroke="#999" stroke-width="1"/>
<text x="386.9" y="294.53999999999996" font-size="11.1" text-anchor="end" >90</text>
<path d="M398 265.9H399.7" stroke="#999" stroke-width="1"/>
<text x="386.9" y="272.8" font-size="11.1" text-anchor="end" >100</text>
<path d="M399.7 487.3V489.8" stroke="#666" stroke-width="1"/>
<path d="M448.7 487.3V489.8" stroke="#666" stroke-width="1"/>
<path d="M497.7 487.3V489.8" stroke="#666" stroke-width="1"/>
<path d="M546.7 487.3V489.8" stroke="#666" stroke-width="1"/>
<path d="M595.7 487.3V489.8" stroke="#666" stroke-width="1"/>
<path d="M644.7 487.3V489.8" stroke="#666" stroke-width="1"/>
<path d="M693.7 487.3V489.8" stroke="#666" stroke-width="1"/>
<path d="M742.7 487.3V489.8" stroke="#666" stroke-width="1"/>
<path d="M791.7 487.3V489.8" stroke="#666" stroke-width="1"/>
<rect x="413.7" y="302.1" width="20.1" height="185.5" fill="#000"/>
<path d="M424.3 302.6V296.0M422.6 296.0H426.1" stroke="#333" stroke-width="1" fill="none"/>
<rect x="463.4" y="466.0" width="20.8" height="21.6" fill="#000"/>
<path d="M473.7 466.5V458.4M471.9 458.4H475.4" stroke="#333" stroke-width="1" fill="none"/>
<rect x="512.4" y="292.4" width="20.2" height="195.2" fill="#000"/>
<path d="M522.5 292.9V288.2M520.8 288.2H524.2" stroke="#333" stroke-width="1" fill="none"/>
<rect x="561.9" y="318.2" width="19.8" height="169.4" fill="#000"/>
<path d="M571.2 318.7V310.0M569.5 310.0H573.0" stroke="#333" stroke-width="1" fill="none"/>
<rect x="610.6" y="303.6" width="19.9" height="184.0" fill="#000"/>
<path d="M620.0 304.1V294.2M618.2 294.2H621.8" stroke="#333" stroke-width="1" fill="none"/>
<rect x="659.4" y="485.3" width="20.6" height="2.3" fill="#000"/>
<rect x="708.7" y="464.2" width="20.0" height="23.4" fill="#000"/>
<path d="M719.0 464.7V454.8M717.2 454.8H720.8" stroke="#333" stroke-width="1" fill="none"/>
<rect x="757.8" y="459.5" width="20.1" height="28.1" fill="#000"/>
<path d="M767.8 460.0V456.7M766.0 456.7H769.5" stroke="#333" stroke-width="1" fill="none"/>
<text x="468.1" y="456.5" font-size="16" text-anchor="middle">*</text><text x="476.3" y="456.5" font-size="16" text-anchor="middle">*</text>
<text x="663.6" y="481.6" font-size="16" text-anchor="middle">*</text><text x="673.4" y="481.6" font-size="16" text-anchor="middle">*</text>
<text x="712.5" y="457.9" font-size="16" text-anchor="middle">*</text><text x="723.6" y="457.9" font-size="16" text-anchor="middle">*</text>
<text x="763.9" y="457.9" font-size="16" text-anchor="middle">*</text><text x="771.9" y="457.9" font-size="16" text-anchor="middle">*</text>
<text x="422.1" y="505.2" font-size="11.4" text-anchor="middle" >Control</text>
<text x="472.8" y="505.2" font-size="11.4" text-anchor="middle" >EPCs</text>
<text x="520.4" y="505.2" font-size="11.4" text-anchor="middle" >Indo</text>
<text x="569" y="505.2" font-size="11.4" text-anchor="middle" >Indo+SOD</text>
<text x="623" y="505.2" font-size="11.4" text-anchor="middle" >NS-398</text>
<text x="668.2" y="505.2" font-size="11.4" text-anchor="middle" >PTIO</text>
<text x="719.8" y="505.2" font-size="11.4" text-anchor="middle" >L-NNA</text>
<text x="769" y="505.2" font-size="11.4" text-anchor="middle" >1400W</text>
<text transform="translate(362.8 393.8) rotate(-90)" font-size="11.2" text-anchor="middle">Thrombin-Induced Aggregation (%)</text>
</g>
</g>
</svg>
</body></html>
